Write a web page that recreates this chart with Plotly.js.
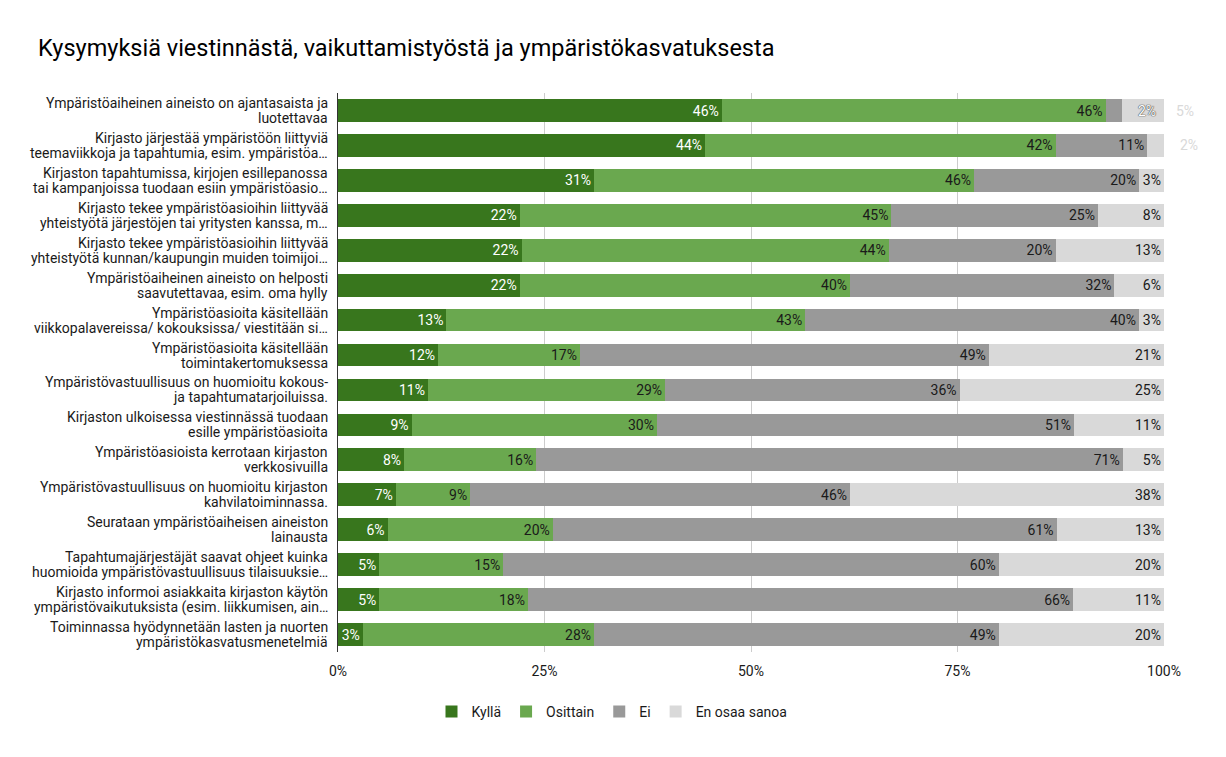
<!DOCTYPE html>
<html>
<head>
<meta charset="utf-8">
<script src="https://cdn.plot.ly/plotly-3.0.1.min.js"></script>
<style>html,body{margin:0;padding:0;background:#fff;}#chart{width:1226px;height:757px;}</style>
</head>
<body>
<div id="chart"></div>
<script>
const categories = [
  "Ympäristöaiheinen aineisto on ajantasaista ja<br>luotettavaa",
  "Kirjasto järjestää ympäristöön liittyviä<br>teemaviikkoja ja tapahtumia, esim. ympäristöa…",
  "Kirjaston tapahtumissa, kirjojen esillepanossa<br>tai kampanjoissa tuodaan esiin ympäristöasio…",
  "Kirjasto tekee ympäristöasioihin liittyvää<br>yhteistyötä järjestöjen tai yritysten kanssa, m…",
  "Kirjasto tekee ympäristöasioihin liittyvää<br>yhteistyötä kunnan/kaupungin muiden toimijoi…",
  "Ympäristöaiheinen aineisto on helposti<br>saavutettavaa, esim. oma hylly",
  "Ympäristöasioita käsitellään<br>viikkopalavereissa/ kokouksissa/ viestitään si…",
  "Ympäristöasioita käsitellään<br>toimintakertomuksessa",
  "Ympäristövastuullisuus on huomioitu kokous-<br>ja tapahtumatarjoiluissa.",
  "Kirjaston ulkoisessa viestinnässä tuodaan<br>esille ympäristöasioita",
  "Ympäristöasioista kerrotaan kirjaston<br>verkkosivuilla",
  "Ympäristövastuullisuus on huomioitu kirjaston<br>kahvilatoiminnassa.",
  "Seurataan ympäristöaiheisen aineiston<br>lainausta",
  "Tapahtumajärjestäjät saavat ohjeet kuinka<br>huomioida ympäristövastuullisuus tilaisuuksie…",
  "Kirjasto informoi asiakkaita kirjaston käytön<br>ympäristövaikutuksista (esim. liikkumisen, ain…",
  "Toiminnassa hyödynnetään lasten ja nuorten<br>ympäristökasvatusmenetelmiä"
];
const kylla    = [46, 44, 31, 22, 22, 22, 13, 12, 11,  9,  8,  7,  6,  5,  5,  3];
const osittain = [46, 42, 46, 45, 44, 40, 43, 17, 29, 30, 16,  9, 20, 15, 18, 28];
const ei       = [ 2, 11, 20, 25, 20, 32, 40, 49, 36, 51, 71, 46, 61, 60, 66, 49];
const eos      = [ 5,  2,  3,  8, 13,  6,  3, 21, 25, 11,  5, 38, 13, 20, 11, 20];
const seriesNames = ["Kyllä", "Osittain", "Ei", "En osaa sanoa"];
const tickVals = [0, 25, 50, 75, 100];
const tickLabels = ["0%", "25%", "50%", "75%", "100%"];

// labels that do not fit inside their segment are drawn outside (row index, series index)
const outsideLabels = [[0, 2], [0, 3], [1, 3]];

const colors = ["#38761d", "#6aa84f", "#999999", "#d9d9d9"];
const textColors = ["#ffffff", "#1a1a1a", "#1a1a1a", "#1a1a1a"];
const allSeries = [kylla, osittain, ei, eos];
const FONT = "Roboto, sans-serif";

const isOutside = (r, s) => outsideLabels.some(p => p[0] === r && p[1] === s);

const traces = allSeries.map((vals, s) => ({
  type: "bar",
  orientation: "h",
  name: seriesNames[s],
  y: categories,
  x: vals,
  marker: {color: colors[s], line: {width: 0}},
  text: vals.map((v, r) => isOutside(r, s) ? "" : v + "%"),
  textposition: "inside",
  insidetextanchor: "end",
  textfont: {family: FONT, size: 14, color: textColors[s]},
  hoverinfo: "none",
  cliponaxis: false
}));

const annotations = [];
outsideLabels.forEach(([r, s]) => {
  const v = allSeries[s][r];
  if (r === 0 && s === 2) {
    annotations.push({x: 100, y: categories[r], xref: "x", yref: "y", xanchor: "right",
      xshift: -6, text: v + "%", showarrow: false,
      font: {family: FONT, size: 14, color: "#ffffff", shadow: "0 0 1px #555, 0 0 1px #555, 0 0 1px #555"}});
  } else {
    annotations.push({x: 100, y: categories[r], xref: "x", yref: "y", xanchor: "left",
      xshift: r === 0 ? 10 : 14, text: v + "%", showarrow: false,
      font: {family: FONT, size: 14, color: "#d9d9d9"}});
  }
});

// category labels: each line as its own text, with tighter line spacing
categories.forEach(cat => {
  const lines = cat.split("<br>");
  lines.forEach((ln, i) => {
    const off = (lines.length - 1) / 2 - i;
    annotations.push({x: 0, xref: "paper", xanchor: "right", xshift: -8,
      y: cat, yref: "y", yanchor: "middle", yshift: off * 15,
      text: ln, showarrow: false, align: "right",
      font: {family: FONT, size: 14, color: "#1a1a1a"}});
  });
});

const plotTop = 93, plotBottom = 652;
const layout = {
  width: 1226, height: 757,
  paper_bgcolor: "#ffffff", plot_bgcolor: "#ffffff",
  margin: {l: 338, r: 62, t: plotTop, b: 757 - plotBottom},
  font: {family: FONT, color: "#222222", size: 14},
  title: {text: "Kysymyksiä viestinnästä, vaikuttamistyöstä ja ympäristökasvatuksesta",
    x: 0.031, xref: "container", xanchor: "left", y: 1 - 48/757, yref: "container", yanchor: "middle",
    font: {family: FONT, size: 23.5, color: "#000000"}},
  barmode: "stack",
  barnorm: "percent",
  bargap: 0.35,
  uniformtext: {mode: "show", minsize: 14},
  xaxis: {range: [0, 100.001], tickvals: tickVals, ticktext: tickLabels, showgrid: true,
    gridcolor: "#cccccc", gridwidth: 1, zeroline: false, showline: false, ticks: "",
    ticklabelstandoff: 9, tickfont: {family: FONT, size: 14, color: "#1a1a1a"},
    fixedrange: true},
  yaxis: {autorange: "reversed", type: "category", showgrid: false, ticks: "",
    showline: true, linecolor: "#333333", linewidth: 1,
    showticklabels: false, fixedrange: true},
  showlegend: true,
  legend: {orientation: "h", x: (612 - 338) / 826, xanchor: "center",
    y: (plotBottom - 712) / (plotBottom - plotTop), yanchor: "middle",
    font: {family: FONT, size: 14, color: "#1a1a1a"}, traceorder: "normal",
    itemclick: false, itemdoubleclick: false},
  annotations: annotations
};

Plotly.newPlot("chart", traces, layout, {displayModeBar: false, staticPlot: true});
</script>
</body>
</html>
